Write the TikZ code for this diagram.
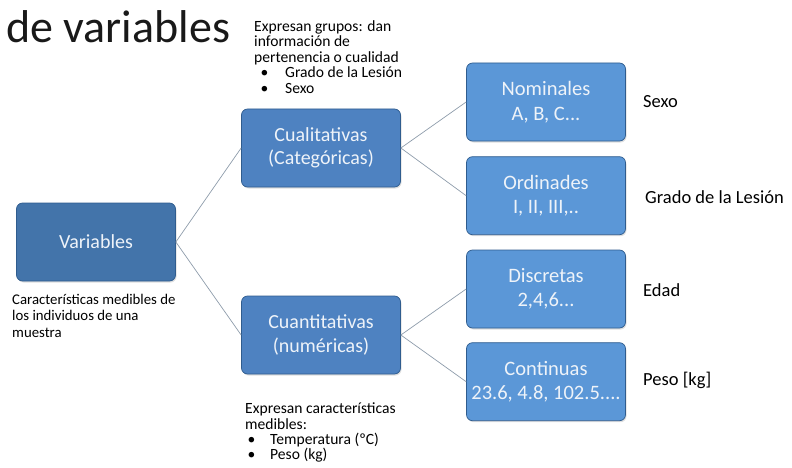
\documentclass[tikz,border=0pt]{standalone}
\usepackage{fontspec}
\setmainfont{Carlito}
\usetikzlibrary{positioning, shadows}

\definecolor{rootblue}{HTML}{4374AA}
\definecolor{midblue}{HTML}{4E82C1}
\definecolor{leafblue}{HTML}{5B97D7}
\definecolor{edgeblue}{HTML}{2F5C8E}
\definecolor{boxtext}{HTML}{EEF3F9}
\definecolor{linkgray}{HTML}{8E9CAB}

\newcommand{\bul}[3]{\makebox[#1][l]{\hspace{#2}\textbullet}#3}

\begin{document}
\begin{tikzpicture}[x=1pt, y=-1pt,
  box/.style={draw=edgeblue, line width=0.7pt, rounded corners=6pt,
    minimum width=159pt, minimum height=78pt, inner sep=0pt, align=center,
    text=boxtext, font=\fontsize{20}{23.5}\selectfont,
    drop shadow={opacity=0.25, shadow xshift=1pt, shadow yshift=-1.5pt}},
  leaf/.style={box, fill=leafblue, font=\fontsize{20.5}{24.5}\selectfont},
  note/.style={anchor=north west, inner sep=0pt, align=left,
    font=\fontsize{15.6}{15.6}\selectfont},
  side/.style={anchor=west, inner sep=0pt, font=\fontsize{18.5}{20}\selectfont},
  link/.style={draw=linkgray, line width=0.7pt}]
\useasboundingbox (0,0) rectangle (792,468);

\node[anchor=base west, inner sep=0pt, text=black!90, font=\fontsize{46}{50}\selectfont] (title) at (6,43) {de variables};

% the tree
\node[box, fill=rootblue] (var) at (96,242) {Variables};
\node[box, fill=midblue] (cual) at (321,148) {Cualitativas\\(Categóricas)};
\node[box, fill=midblue] (cuan) at (321,335) {Cuantitativas\\(numéricas)};
\node[leaf] (nom) at (546,102) {Nominales\\A, B, C...};
\node[leaf, below=15pt of nom] (ord) {Ordinades\\I, II, III,..};
\node[leaf] (dis) at (546,289) {Discretas\\2,4,6...};
\node[leaf, below=14pt of dis] (con) {Continuas\\23.6, 4.8, 102.5....};

\draw[link] (var.east) -- (cual.west);
\draw[link] (var.east) -- (cuan.west);
\draw[link] (cual.east) -- (nom.west);
\draw[link] (cual.east) -- (ord.west);
\draw[link] (cuan.east) -- (dis.west);
\draw[link] (cuan.east) -- (con.west);

% examples on the right
\node[side] (sexo) at (643,102) {Sexo};
\node[side] (grado) at (645,197) {Grado de la Lesión};
\node[side] (edad) at (643,290) {Edad};
\node[side] (peso) at (643,380) {Peso [kg]};

% notes
\node[note] (notecual) at (254,20) {Expresan grupos: dan\\información de\\pertenencia o cualidad\\
  \bul{31pt}{6.5pt}{Grado de la Lesión}\\\bul{31pt}{6.5pt}{Sexo}};
\node[note, font=\fontsize{14.8}{16.3}\selectfont] (notevar) at (12,294) {Características medibles de\\los individuos de una\\muestra};
\node[note, font=\fontsize{15.6}{15.3}\selectfont] (notecuan) at (245,403) {Expresan características\\medibles:\\
  \bul{25pt}{2.5pt}{Temperatura (ºC)}\\\bul{25pt}{2.5pt}{Peso (kg)}};
\end{tikzpicture}
\end{document}
